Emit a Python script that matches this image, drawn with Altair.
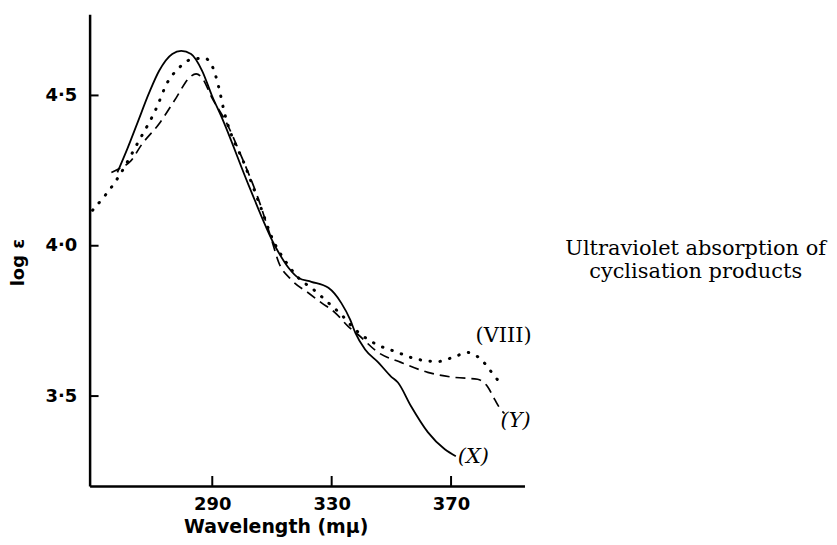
import altair as alt
import pandas as pd

# ---- data ----
# Curve (X): solid
x_wl = [258.2, 261.6, 264.9, 268.9, 272.2, 276.6, 279.6, 282.9, 286.6, 289.9, 293.2,
        302.2, 311.2, 315.6, 318.9, 323.2, 328.9, 333.2, 336.2, 337.9, 341.2, 345.6,
        349.9, 352.2, 356.6, 362.2, 367.9, 371.6]
x_loge = [4.244, 4.324, 4.408, 4.510, 4.582, 4.638, 4.648, 4.638, 4.582, 4.499, 4.426,
          4.201, 3.996, 3.926, 3.893, 3.880, 3.860, 3.810, 3.754, 3.711, 3.655, 3.612,
          3.565, 3.545, 3.466, 3.380, 3.323, 3.300]

# Curve (Y): dashed
y_wl = [256.2, 259.6, 262.2, 266.6, 272.2, 277.9, 282.2, 284.6, 286.6, 289.9, 294.9,
        299.9, 305.6, 309.9, 312.2, 316.6, 322.2, 326.6, 331.2, 335.6, 338.9, 345.6,
        353.2, 362.2, 371.2, 378.9, 382.2, 384.6, 386.6, 387.9]
y_loge = [4.244, 4.261, 4.277, 4.340, 4.406, 4.492, 4.558, 4.572, 4.558, 4.492, 4.406,
          4.294, 4.151, 4.019, 3.946, 3.886, 3.843, 3.810, 3.777, 3.731, 3.704, 3.645,
          3.612, 3.579, 3.562, 3.556, 3.532, 3.489, 3.456, 3.442]

# Curve (VIII): dotted
v_wl = [249.9, 258.9, 264.9, 271.2, 274.9, 278.9, 281.6, 284.6, 287.2, 289.9, 292.2,
        293.9, 301.2, 306.6, 309.9, 314.9, 319.6, 323.2, 328.9, 333.2, 337.9, 342.2,
        346.6, 352.2, 356.6, 361.2, 365.6, 371.2, 375.6, 378.9, 382.2, 384.6, 386.6]
v_loge = [4.118, 4.234, 4.340, 4.456, 4.542, 4.592, 4.615, 4.622, 4.625, 4.599, 4.526,
          4.450, 4.261, 4.118, 4.029, 3.943, 3.886, 3.860, 3.810, 3.771, 3.721, 3.688,
          3.665, 3.645, 3.628, 3.618, 3.615, 3.631, 3.645, 3.631, 3.598, 3.565, 3.545]

x_ticks = [290, 330, 370]
y_ticks = [3.5, 4.0, 4.5]
x_domain = [248.9, 394.6]
y_domain = [3.201, 4.770]

caption = ["Ultraviolet absorption of", "cyclisation products"]

# ---- chart ----
W, H = 437, 474
xs = alt.Scale(domain=x_domain, nice=False, zero=False)
ys = alt.Scale(domain=y_domain, nice=False, zero=False)

df_x = pd.DataFrame({"wl": x_wl, "le": x_loge})
df_y = pd.DataFrame({"wl": y_wl, "le": y_loge})
df_v = pd.DataFrame({"wl": v_wl, "le": v_loge})

x_axis = alt.Axis(values=x_ticks, title="Wavelength (mμ)", ticks=False, tickSize=0, grid=False,
                  domainColor="black", domainWidth=2.5,
                  labelFont="DejaVu Sans", labelFontSize=18, labelFontWeight="bold",
                  labelColor="black", labelPadding=10,
                  titleFont="DejaVu Sans", titleFontSize=19, titleFontWeight="bold",
                  titleColor="black", titleX=187, titleY=47, titleBaseline="alphabetic",
                  titleAlign="center")
y_axis = alt.Axis(values=y_ticks, title="log ε", ticks=False, tickSize=0, grid=False,
                  domainColor="black", domainWidth=2.5,
                  labelFont="DejaVu Sans", labelFontSize=18, labelFontWeight="bold",
                  labelColor="black", labelPadding=13,
                  labelExpr="replace(format(datum.value, '.1f'), '.', '·')",
                  titleFont="DejaVu Sans", titleFontSize=18, titleFontWeight="bold",
                  titleColor="black", titleX=-71, titleY=249, titleBaseline="middle",
                  titleAlign="center", titleAngle=270)

X = alt.X("wl:Q", scale=xs, axis=x_axis)
Y = alt.Y("le:Q", scale=ys, axis=y_axis)

solid = alt.Chart(df_x).mark_line(color="black", strokeWidth=1.8, interpolate="monotone").encode(
    x=X, y=Y)
dashed = alt.Chart(df_y).mark_line(color="black", strokeWidth=1.7, strokeDash=[10, 6],
                                   interpolate="monotone").encode(x=X, y=Y)
dotted = alt.Chart(df_v).mark_line(color="black", strokeWidth=3, strokeDash=[0.5, 9.5],
                                   strokeCap="round", interpolate="monotone").encode(x=X, y=Y)

xt = alt.Chart(pd.DataFrame({"wl": x_ticks})).mark_rule(color="black", strokeWidth=2).encode(
    x=X, y=alt.value(H), y2=alt.value(H - 10))
yt = alt.Chart(pd.DataFrame({"le": y_ticks})).mark_rule(color="black", strokeWidth=2).encode(
    y=Y, x=alt.value(0), x2=alt.value(9))

def end_label(df, text, dx, dy, align, italic):
    last = df.tail(1).assign(lab=text)
    return alt.Chart(last).mark_text(
        font="DejaVu Serif", fontSize=21, fontStyle="italic" if italic else "normal",
        align=align, baseline="middle", dx=dx, dy=dy, color="black").encode(
        x=X, y=Y, text="lab:N")

lab_v = end_label(df_v, "(VIII)", 3, -47, "center", False)
lab_y = end_label(df_y, "(Y)", -4, 8, "left", True)
lab_x = end_label(df_x, "(X)", 2, 1, "left", True)

cap = alt.Chart(pd.DataFrame({"a": [0]})).mark_text(
    text=caption, font="DejaVu Serif", fontSize=21, lineHeight=23,
    align="center", baseline="alphabetic", color="black").encode(
    x=alt.value(609), y=alt.value(242))

chart = alt.layer(solid, dashed, dotted, xt, yt, lab_v, lab_y, lab_x, cap).properties(
    width=W, height=H,
    autosize=alt.AutoSizeParams(type="none"),
    padding={"left": 82, "top": 5, "right": 306, "bottom": 50},
    background="white",
).configure_view(stroke=None)

chart.save("out.html", embed_options={"renderer": "svg", "actions": False})
